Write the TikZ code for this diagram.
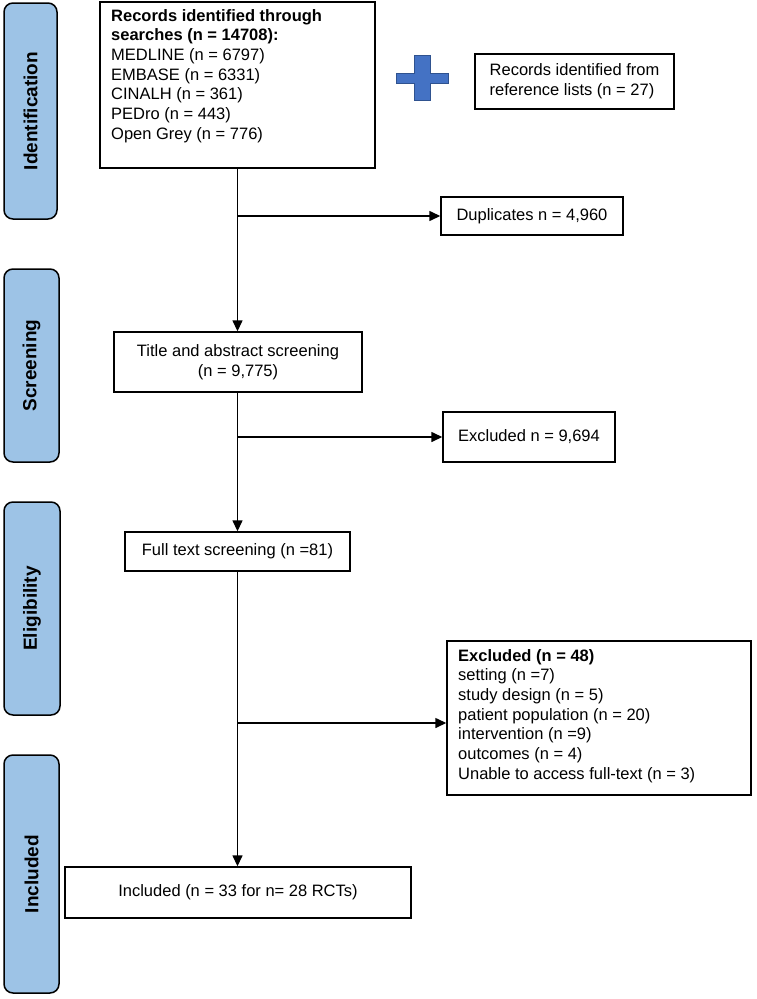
\documentclass[tikz,border=0pt]{standalone}
\usepackage{fontspec}
\setmainfont{Liberation Sans}
\usetikzlibrary{arrows.meta}
\definecolor{barblue}{HTML}{9DC3E6}
\definecolor{plusblue}{HTML}{4472C4}
\definecolor{plusedge}{HTML}{2F528F}
\tikzset{
  bar/.style={draw=black, line width=1.5pt, fill=barblue, rounded corners=9pt},
  bartext/.style={rotate=90, font=\fontsize{19}{22}\selectfont\bfseries},
  box/.style={draw=black, line width=1.4pt, fill=white, inner sep=0pt, font=\fontsize{16.5}{20}\selectfont},
  boxtext/.style={font=\fontsize{16.5}{19.7}\selectfont, inner sep=0pt},
  arr/.style={line width=1.4pt, -{Triangle[length=11pt,width=10pt]}},
}
\begin{document}
\begin{tikzpicture}[x=1pt,y=-1pt]
\useasboundingbox (0,0) rectangle (756,999);
% phase bars
\draw[bar] (4,3) rectangle (57,219);
\node[bartext] (lid) at (30.5,111) {Identification};
\draw[bar] (4,269) rectangle (59,462);
\node[bartext] (lsc) at (31.5,365.5) {Screening};
\draw[bar] (4,502) rectangle (60,715);
\node[bartext] (lel) at (32,608.5) {Eligibility};
\draw[bar] (4,755) rectangle (59,993);
\node[bartext] (lin) at (31.5,874) {Included};
% boxes
\node[box, minimum width=275pt, minimum height=166pt] (b1) at (237.5,85) {};
\node[boxtext, anchor=north west, align=left] (b1t) at (111,9)
  {\textbf{Records identified through}\\\textbf{searches (n = 14708):}\\MEDLINE (n = 6797)\\EMBASE (n = 6331)\\CINALH (n = 361)\\PEDro (n = 443)\\Open Grey (n = 776)};
\node[box, minimum width=199pt, minimum height=55pt, align=left] (ref) at (574.5,81.5)
  {Records identified from\\reference lists (n = 27)};
\node[box, minimum width=182pt, minimum height=38pt] (dup) at (532,216)
  {Duplicates n = 4,960};
\node[box, minimum width=248pt, minimum height=60pt, align=center] (scr) at (238,362)
  {Title and abstract screening\\(n = 9,775)};
\node[box, minimum width=172pt, minimum height=50pt] (ex1) at (529,437)
  {Excluded n = 9,694};
\node[box, minimum width=225pt, minimum height=39pt] (ful) at (237.5,551.5)
  {Full text screening (n =81)};
\node[box, minimum width=304pt, minimum height=154pt] (ex2) at (599,718) {};
\node[boxtext, anchor=north west, align=left] (ex2t) at (458,649)
  {\textbf{Excluded (n = 48)}\\setting (n =7)\\study design (n = 5)\\patient population (n = 20)\\intervention (n =9)\\outcomes (n = 4)\\Unable to access full-text (n = 3)};
\node[box, minimum width=346pt, minimum height=51pt] (inc) at (238,892.5)
  {Included (n = 33 for n= 28 RCTs)};
% plus sign
\fill[plusblue, draw=plusedge, line width=0.8pt]
  (414,55) -- (430,55) -- (430,73) -- (448,73) -- (448,83) -- (430,83) -- (430,100)
  -- (414,100) -- (414,83) -- (396,83) -- (396,73) -- (414,73) -- cycle;
% connectors
\coordinate (j1) at (237.5,216);
\coordinate (j2) at (237.5,437);
\coordinate (j3) at (237.5,723);
\draw[arr] (b1.south -| j1) -- (scr.north -| j1);
\draw[arr] (scr.south -| j1) -- (ful.north -| j1);
\draw[arr] (ful.south -| j1) -- (inc.north -| j1);
\draw[arr] (j1) -- (dup.west);
\draw[arr] (j2) -- (ex1.west);
\draw[arr] (j3) -- (j3 -| ex2.west);
\end{tikzpicture}
\end{document}
